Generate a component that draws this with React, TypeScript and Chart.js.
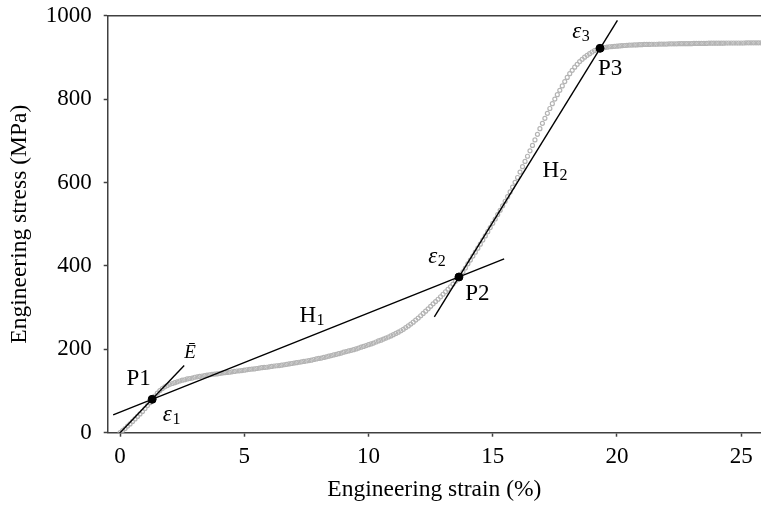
import React, { useEffect, useRef } from 'react';
import { Chart, registerables } from 'chart.js';

Chart.register(...registerables);

// Engineering strain (%) of the measured curve
const strain = [
  0, 0.1, 0.2, 0.3, 0.4, 0.5, 0.6, 0.7, 0.8, 0.9,
  1, 1.1, 1.2, 1.3, 1.4, 1.5, 1.6, 1.7, 1.8, 1.9,
  2, 2.1, 2.2, 2.3, 2.4, 2.5, 2.6, 2.7, 2.8, 2.9,
  3, 3.1, 3.2, 3.3, 3.4, 3.5, 3.6, 3.7, 3.8, 3.9,
  4, 4.1, 4.2, 4.3, 4.4, 4.5, 4.6, 4.7, 4.8, 4.9,
  5, 5.1, 5.2, 5.3, 5.4, 5.5, 5.6, 5.7, 5.8, 5.9,
  6, 6.1, 6.2, 6.3, 6.4, 6.5, 6.6, 6.7, 6.8, 6.9,
  7, 7.1, 7.2, 7.3, 7.4, 7.5, 7.6, 7.7, 7.8, 7.9,
  8, 8.1, 8.2, 8.3, 8.4, 8.5, 8.6, 8.7, 8.8, 8.9,
  9, 9.1, 9.2, 9.3, 9.4, 9.5, 9.6, 9.7, 9.8, 9.9,
  10, 10.1, 10.2, 10.3, 10.4, 10.5, 10.6, 10.7, 10.8, 10.9,
  11, 11.1, 11.2, 11.3, 11.4, 11.5, 11.6, 11.7, 11.8, 11.9,
  12, 12.1, 12.2, 12.3, 12.4, 12.5, 12.6, 12.7, 12.8, 12.9,
  13, 13.1, 13.2, 13.3, 13.4, 13.5, 13.6, 13.7, 13.8, 13.9,
  14, 14.1, 14.2, 14.3, 14.4, 14.5, 14.6, 14.7, 14.8, 14.9,
  15, 15.1, 15.2, 15.3, 15.4, 15.5, 15.6, 15.7, 15.8, 15.9,
  16, 16.1, 16.2, 16.3, 16.4, 16.5, 16.6, 16.7, 16.8, 16.9,
  17, 17.1, 17.2, 17.3, 17.4, 17.5, 17.6, 17.7, 17.8, 17.9,
  18, 18.1, 18.2, 18.3, 18.4, 18.5, 18.6, 18.7, 18.8, 18.9,
  19, 19.1, 19.2, 19.3, 19.4, 19.5, 19.6, 19.7, 19.8, 19.9,
  20, 20.1, 20.2, 20.3, 20.4, 20.5, 20.6, 20.7, 20.8, 20.9,
  21, 21.1, 21.2, 21.3, 21.4, 21.5, 21.6, 21.7, 21.8, 21.9,
  22, 22.1, 22.2, 22.3, 22.4, 22.5, 22.6, 22.7, 22.8, 22.9,
  23, 23.1, 23.2, 23.3, 23.4, 23.5, 23.6, 23.7, 23.8, 23.9,
  24, 24.1, 24.2, 24.3, 24.4, 24.5, 24.6, 24.7, 24.8, 24.9,
  25, 25.1, 25.2, 25.3, 25.4, 25.5, 25.6, 25.7, 25.8,
];

// Engineering stress (MPa) of the measured curve
const stress = [
  0, 5, 10, 16, 21, 27, 33, 39, 45, 51,
  58, 65, 72, 80, 88, 95, 101, 106, 110, 113,
  116, 118, 120, 122, 124, 126, 127, 129, 130, 131,
  133, 134, 135, 136, 137, 138, 139, 140, 140.5, 141,
  142, 143, 144, 144.5, 145, 146, 147, 148, 148.5, 149,
  150, 151, 152, 152.5, 153, 154, 155, 156, 156.5, 157,
  158, 159, 160, 160.5, 161, 162, 163, 164, 165, 166,
  167, 168, 169, 170, 171, 172, 173, 174, 175.5, 177,
  178, 179, 180.5, 182, 183.5, 185, 186.5, 188, 189.5, 191,
  193, 194.5, 196, 197.5, 199, 201, 203, 205, 207, 209,
  211, 213, 215, 217.5, 220, 222, 224.5, 227, 229.5, 232,
  235, 238, 241, 244.5, 248, 252, 256, 260.5, 265, 270,
  275, 280.5, 286, 291.5, 297, 303, 309, 314.5, 320, 326,
  332, 338, 344, 350, 356.5, 363, 370, 378, 386, 395,
  405, 414, 423.5, 433, 442.5, 452, 462, 472, 482, 492,
  502, 512.5, 523, 533.5, 544, 555, 566, 577.5, 589, 600.5,
  612, 625, 638, 650.5, 663, 676, 689, 702, 715.5, 729,
  742, 754, 766, 777.5, 789, 800, 810.5, 821, 831.5, 842,
  852, 861, 869, 876.5, 883.5, 890, 895.5, 900.5, 905, 909,
  913, 916.5, 919, 921, 922.5, 923.5, 924.5, 925.5, 926, 926.5,
  927, 927.5, 928, 928.5, 929, 929.5, 929.5, 930, 930, 930.5,
  930.5, 931, 931, 931, 931.5, 931.5, 931.5, 932, 932, 932,
  932, 932.5, 932.5, 932.5, 932.5, 933, 933, 933, 933, 933,
  933, 933.5, 933.5, 933.5, 933.5, 933.5, 933.5, 934, 934, 934,
  934, 934, 934, 934, 934.5, 934.5, 934.5, 934.5, 934.5, 934.5,
  934.5, 934.5, 935, 935, 935, 935, 935, 935, 935,
];

// Tangent / fitted lines: [strain, stress] end points
const eBarLine = [[0, 0], [2.58, 161]];
const h1Line = [[-0.28, 42.7], [15.46, 417]];
const h2Line = [[12.65, 277.8], [20.02, 989]];

// Characteristic points P1, P2, P3
const keyPoints = [[1.29, 80], [13.64, 373.4], [19.32, 921.8]];

// Axis ticks
const xTicks = [0, 5, 10, 15, 20, 25];
const yTicks = [0, 200, 400, 600, 800, 1000];

// Text annotations (anchored in data units: left edge, baseline)
const annotations = [
  { text: 'P1', sub: '', x: 0.26, y: 114, italic: false, size: 23 },
  { text: 'Ē', sub: '', x: 2.58, y: 178.7, italic: true, size: 19 },
  { text: 'ε', sub: '1', x: 1.72, y: 28.8, italic: true, size: 23 },
  { text: 'H', sub: '1', x: 7.22, y: 266, italic: false, size: 23 },
  { text: 'ε', sub: '2', x: 12.4, y: 407, italic: true, size: 23 },
  { text: 'P2', sub: '', x: 13.89, y: 318, italic: false, size: 23 },
  { text: 'H', sub: '2', x: 17.0, y: 613, italic: false, size: 23 },
  { text: 'ε', sub: '3', x: 18.2, y: 946.5, italic: true, size: 23 },
  { text: 'P3', sub: '', x: 19.24, y: 857, italic: false, size: 23 },
];

const SERIF = "'Liberation Serif', 'Times New Roman', serif";
const AXIS_COLOR = '#404040';

const toXY = (arr: number[][]) => arr.map(([x, y]) => ({ x, y }));

export default function App() {
  const ref = useRef<HTMLCanvasElement | null>(null);

  useEffect(() => {
    const canvas = ref.current;
    if (!canvas) return;

    const annotPlugin = {
      id: 'annot',
      afterDatasetsDraw(chart: any) {
        const { ctx, chartArea } = chart;
        const xs = chart.scales.x;
        const ys = chart.scales.y;
        ctx.save();
        // top frame line
        ctx.strokeStyle = AXIS_COLOR;
        ctx.lineWidth = 1.5;
        ctx.beginPath();
        ctx.moveTo(chartArea.left, chartArea.top);
        ctx.lineTo(chartArea.right, chartArea.top);
        ctx.stroke();

        ctx.fillStyle = '#000';
        ctx.textAlign = 'left';
        ctx.textBaseline = 'alphabetic';
        annotations.forEach((a) => {
          const px = xs.getPixelForValue(a.x);
          const py = ys.getPixelForValue(a.y);
          ctx.font = `${a.italic ? 'italic ' : ''}${a.size}px ${SERIF}`;
          ctx.fillText(a.text, px, py);
          if (a.sub) {
            const w = ctx.measureText(a.text).width;
            ctx.font = `16px ${SERIF}`;
            ctx.fillText(a.sub, px + w + 0.5, py + 3);
          }
        });
        ctx.restore();
      },
    };

    const lineDs = (pts: number[][]) => ({
      data: toXY(pts),
      showLine: true,
      borderColor: '#000',
      borderWidth: 1.4,
      pointRadius: 0,
      order: 2,
    });

    const chart = new Chart(canvas, {
      type: 'scatter',
      data: {
        datasets: [
          {
            data: toXY(keyPoints),
            pointRadius: 4,
            pointBackgroundColor: '#000',
            pointBorderColor: '#000',
            showLine: false,
            order: 1,
          } as any,
          lineDs(eBarLine),
          lineDs(h1Line),
          lineDs(h2Line),
          {
            data: strain.map((x, i) => ({ x, y: stress[i] })),
            pointRadius: 2,
            pointBorderWidth: 1.2,
            pointBorderColor: '#b4b4b4',
            pointBackgroundColor: 'rgba(255,255,255,0)',
            showLine: false,
            order: 3,
          },
        ],
      },
      options: {
        animation: false,
        responsive: false,
        layout: { autoPadding: false, padding: { top: 15.7, right: 0, left: 0, bottom: 0 } },
        plugins: { legend: { display: false }, tooltip: { enabled: false } },
        scales: {
          x: {
            type: 'linear',
            min: -0.5,
            max: 25.8,
            afterBuildTicks: (s: any) => {
              s.ticks = xTicks.map((v) => ({ value: v }));
            },
            afterFit: (s: any) => {
              s.height = 75.3;
              s.paddingLeft = 0;
              s.paddingRight = 0;
            },
            grid: {
              drawOnChartArea: false,
              drawTicks: true,
              tickLength: 4,
              tickColor: AXIS_COLOR,
              tickWidth: 1.5,
            },
            border: { display: true, color: AXIS_COLOR, width: 1.5 },
            ticks: {
              font: { family: SERIF, size: 23 },
              color: '#000',
              padding: 6,
              maxRotation: 0,
              autoSkip: false,
              callback: (v: any) => String(v),
            },
            title: {
              display: true,
              text: 'Engineering strain (%)',
              font: { family: SERIF, size: 23.5, lineHeight: 1 },
              color: '#000',
              padding: { top: 0, bottom: 6 },
            },
          },
          y: {
            type: 'linear',
            min: 0,
            max: 1000,
            afterBuildTicks: (s: any) => {
              s.ticks = yTicks.map((v) => ({ value: v }));
            },
            afterFit: (s: any) => {
              s.width = 107.7;
              s.paddingTop = 0;
              s.paddingBottom = 0;
            },
            grid: {
              drawOnChartArea: false,
              drawTicks: true,
              tickLength: 4,
              tickColor: AXIS_COLOR,
              tickWidth: 1.5,
            },
            border: { display: true, color: AXIS_COLOR, width: 1.5 },
            ticks: {
              font: { family: SERIF, size: 23 },
              color: '#000',
              padding: 12,
              autoSkip: false,
              callback: (v: any) => String(v),
            },
            title: {
              display: true,
              text: 'Engineering stress (MPa)',
              font: { family: SERIF, size: 23.5, lineHeight: 1 },
              color: '#000',
              padding: { top: 8, bottom: 0 },
            },
          },
        },
      },
      plugins: [annotPlugin],
    } as any);

    return () => chart.destroy();
  }, []);

  return (
    <div style={{ position: 'fixed', left: 0, top: 0, width: 761, height: 508, background: '#fff' }}>
      <canvas ref={ref} width={761} height={508} style={{ display: 'block', width: '761px', height: '508px' }} />
    </div>
  );
}
